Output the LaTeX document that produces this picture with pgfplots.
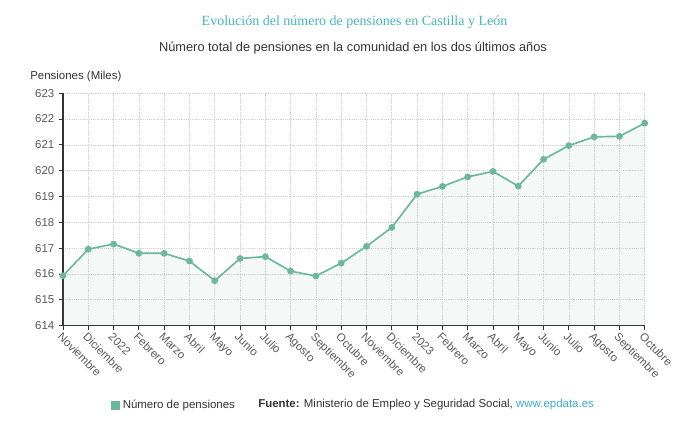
\documentclass[border=0pt]{standalone}
\usepackage{pgfplots}
\pgfplotsset{compat=1.18}
\usepackage{fontspec}
\setmainfont{Liberation Sans}
\newfontfamily\titlefont{Liberation Serif}
\definecolor{serie}{HTML}{6DB89A}
\definecolor{titulo}{HTML}{45B5BE}
\definecolor{enlace}{HTML}{3AAFC3}
\definecolor{texto}{HTML}{333333}
\definecolor{etiq}{HTML}{5A5A5A}
\definecolor{rejilla}{HTML}{D2D2D2}

\pgfplotstableread{
x y
0 615.93
1 616.96
2 617.16
3 616.80
4 616.80
5 616.50
6 615.74
7 616.60
8 616.67
9 616.11
10 615.92
11 616.42
12 617.07
13 617.80
14 619.09
15 619.39
16 619.76
17 619.97
18 619.40
19 620.44
20 620.97
21 621.31
22 621.33
23 621.84
}\pensiones

\begin{document}
\begin{tikzpicture}
\useasboundingbox (0,0) rectangle (517.5pt,325.5pt);
\node[font=\titlefont\fontsize{10.5pt}{12pt}\selectfont, text=titulo] at (265.9pt,309pt) {Evolución del número de pensiones en Castilla y León};
\node[font=\fontsize{9.6pt}{11pt}\selectfont, text=texto] at (264.75pt,289.5pt) {Número total de pensiones en la comunidad en los dos últimos años};
\node[font=\fontsize{8.6pt}{10pt}\selectfont, text=texto, anchor=west, inner sep=0pt] at (22.5pt,267.75pt) {Pensiones (Miles)};
\begin{axis}[
    at={(47.25pt,81.3pt)}, anchor=south west,
    scale only axis,
    width=436.3pt, height=174.3pt,
    xmin=0, xmax=23, ymin=614, ymax=623,
    xtick={0,...,23},
    xticklabels={Noviembre,Diciembre,2022,Febrero,Marzo,Abril,Mayo,Junio,Julio,Agosto,Septiembre,Octubre,Noviembre,Diciembre,2023,Febrero,Marzo,Abril,Mayo,Junio,Julio,Agosto,Septiembre,Octubre},
    ytick={614,...,623},
    x tick label style={rotate=-45, anchor=north west, font=\fontsize{8.6pt}{10pt}\selectfont, text=etiq, inner sep=1pt},
    y tick label style={font=\fontsize{8.6pt}{10pt}\selectfont, text=etiq},
    /pgf/number format/assume math mode=true,
    axis lines*=left,
    axis line style={draw=texto, line width=0.8pt},
    tick align=outside,
    major tick length=3pt,
    tick style={draw=texto, line width=0.6pt},
    grid=major,
    grid style={rejilla, densely dotted, line width=0.5pt},
    legend style={at={(0.082,-0.342)}, anchor=west, draw=none, fill=none, inner sep=0pt,
        font=\fontsize{8.6pt}{10pt}\selectfont, text=texto},
    legend image code/.code={\fill[serie] (0pt,-2.8pt) rectangle (5.6pt,2.8pt);},
]
\addplot[draw=none, fill=serie, fill opacity=0.08, forget plot] table {\pensiones} \closedcycle;
\addplot[serie, line width=1.25pt, mark=*, mark size=1.9pt, mark options={fill=serie, draw=serie}] table {\pensiones};
\addlegendentry{Número de pensiones}
\end{axis}
\node[font=\fontsize{8.6pt}{10pt}\selectfont, text=texto, anchor=west, inner sep=0pt] at (193.5pt,21.75pt) {\textbf{Fuente:} Ministerio de Empleo y Seguridad Social, \textcolor{enlace}{www.epdata.es}};
\end{tikzpicture}
\end{document}
